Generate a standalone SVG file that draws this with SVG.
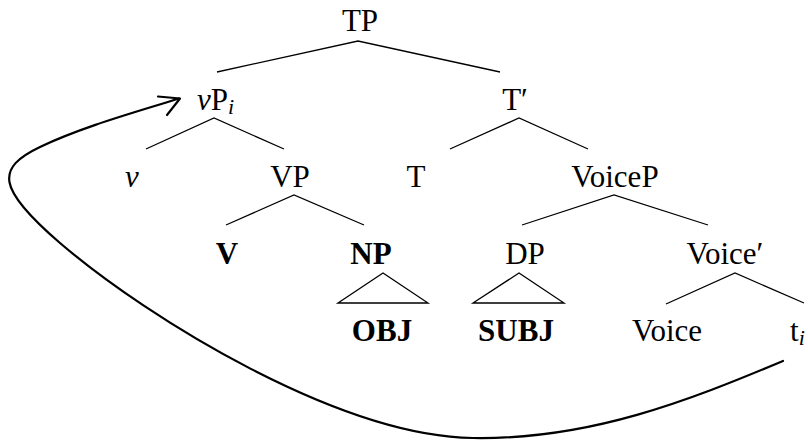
<svg xmlns="http://www.w3.org/2000/svg" width="808" height="440" viewBox="0 0 808 440">
<style>
text{font-family:"Liberation Serif","Times New Roman",serif;font-size:31px;fill:#000}
.c{text-anchor:middle}
.b{font-weight:bold}
.i{font-style:italic}
.sub{font-style:italic;font-size:22px}
.edge{fill:none;stroke:#000;stroke-width:1.3;stroke-linejoin:miter}
.mv{fill:none;stroke:#000;stroke-width:2.2;stroke-linecap:round;stroke-linejoin:round}
</style>
<rect width="808" height="440" fill="#fff"/>
<g id="connectors">
<path class="edge" d="M217,72 L358,41 L500,72"/>
<path class="edge" d="M146,149 L214,118 L284,149"/>
<path class="edge" d="M450,149 L519,118 L588,149"/>
<path class="edge" d="M226,225 L294,195 L364,225"/>
<path class="edge" d="M522,225 L614,195 L708,225"/>
<path class="edge" d="M338,303 L383,273 L428,303 Z"/>
<path class="edge" d="M473,303 L519,273 L564,303 Z"/>
<path class="edge" d="M666,304 L735,273 L804,303"/>
<path class="mv" d="M783,361 C690,400 590,440 473,438 C340,436 150,320 60,243 C-4,188 -4,168 40,147 C84,126 140,111 179,98.5"/>
<path class="mv" d="M158,96.5 L180,98.5 L167,115"/>
</g>
<g id="TP"><text class="c" x="360" y="31">TP</text></g>
<g id="vP"><text x="197" y="110"><tspan class="i">v</tspan>P<tspan class="sub" dy="4">i</tspan></text></g>
<g id="Tbar"><text class="c" x="515" y="110">T′</text></g>
<g id="v"><text class="c i" x="132" y="187">v</text></g>
<g id="VP"><text class="c" x="290" y="187">VP</text></g>
<g id="T"><text class="c" x="416" y="187">T</text></g>
<g id="VoiceP"><text class="c" x="615" y="187">VoiceP</text></g>
<g id="V"><text class="c b" x="227" y="264">V</text></g>
<g id="NP"><text class="c b" x="371" y="264">NP</text></g>
<g id="DP"><text class="c" x="525" y="264">DP</text></g>
<g id="Voicebar"><text class="c" x="725" y="264">Voice′</text></g>
<g id="OBJ"><text class="c b" x="382" y="341">OBJ</text></g>
<g id="SUBJ"><text class="c b" x="516" y="341">SUBJ</text></g>
<g id="Voice"><text class="c" x="667" y="341">Voice</text></g>
<g id="ti"><text x="790" y="341">t<tspan class="sub" dy="4">i</tspan></text></g>
</svg>
